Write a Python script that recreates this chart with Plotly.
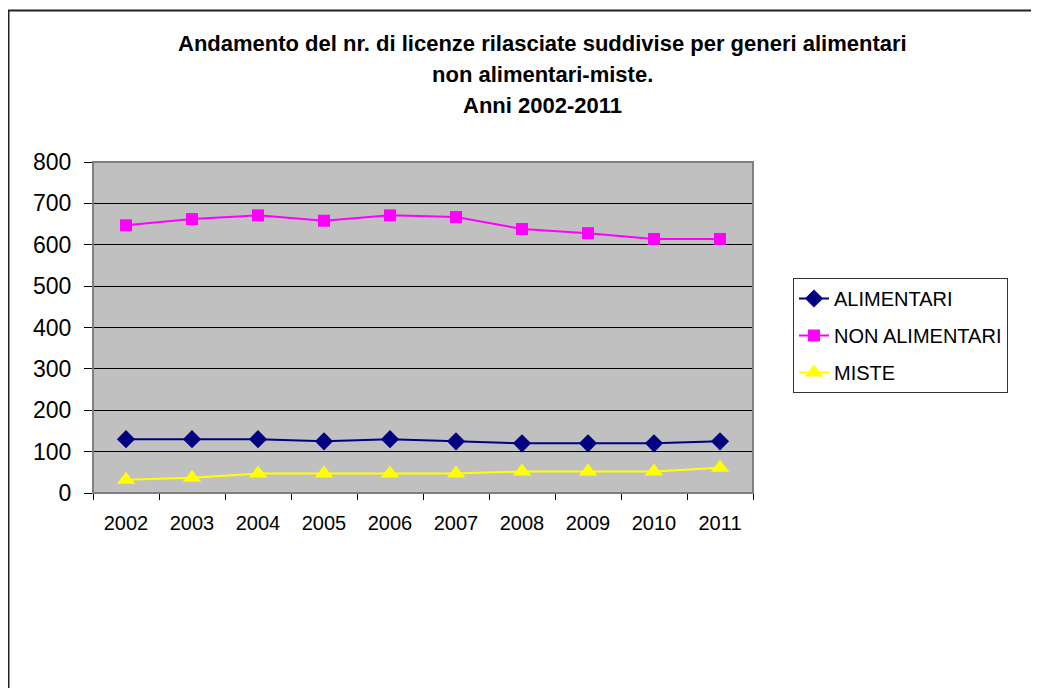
import plotly.graph_objects as go

years = ["2002", "2003", "2004", "2005", "2006", "2007", "2008", "2009", "2010", "2011"]
alimentari = [130, 130, 130, 125, 130, 125, 120, 120, 120, 125]
non_alimentari = [647, 662, 671, 658, 671, 667, 638, 628, 614, 614]
miste = [32, 37, 47, 47, 47, 47, 52, 52, 52, 61]
y_ticks = [0, 100, 200, 300, 400, 500, 600, 700, 800]
title_lines = [
    "Andamento del nr. di licenze rilasciate suddivise per generi alimentari",
    "non alimentari-miste.",
    "Anni 2002-2011",
]

OFF = 8  # page body margin
W, H = 1039 - OFF, 688 - OFF
L, R, T, B = 93 - OFF, 753 - OFF, 162 - OFF, 493 - OFF
pw, ph = R - L, B - T

def px_x(x):
    return (x - OFF - L) / pw

def px_y(y):
    return (B - (y - OFF)) / ph

font = "Liberation Sans, Arial, sans-serif"

fig = go.Figure()
fig.add_trace(go.Scatter(x=years, y=alimentari, name="ALIMENTARI", mode="lines+markers",
                         legendgroup="a",
                         line=dict(color="#000080", width=2),
                         marker=dict(symbol="diamond", size=14, color="#000080")))
fig.add_trace(go.Scatter(x=years, y=non_alimentari, name="NON ALIMENTARI", mode="lines+markers",
                         legendgroup="b",
                         line=dict(color="#FF00FF", width=2),
                         marker=dict(symbol="square", size=12, color="#FF00FF")))
fig.add_trace(go.Scatter(x=years, y=miste, name="MISTE", mode="lines+markers",
                         legendgroup="c",
                         line=dict(color="#FFFF00", width=2),
                         marker=dict(symbol="triangle-up", size=16, color="#FFFF00")))

annotations = []
for txt, py in zip(title_lines, [43, 74, 105]):
    annotations.append(dict(text="<b>" + txt + "</b>", x=px_x(542), y=px_y(py),
                            xref="paper", yref="paper", showarrow=False,
                            xanchor="center", yanchor="middle",
                            font=dict(family=font, size=22, color="black")))

fig.update_layout(
    width=W, height=H,
    margin=dict(l=L, r=W - R, t=T, b=H - B, pad=0),
    paper_bgcolor="white", plot_bgcolor="#C0C0C0",
    font=dict(family=font, size=20, color="black"),
    showlegend=True,
    legend=dict(x=px_x(793), y=px_y(278), xanchor="left", yanchor="top",
                bordercolor="#333333", borderwidth=1, bgcolor="white",
                font=dict(family=font, size=20, color="black"),
                tracegroupgap=8, itemwidth=30,
                entrywidth=200, entrywidthmode="pixels"),
    annotations=annotations,
    shapes=[
        dict(type="rect", xref="paper", yref="paper", x0=0, x1=1, y0=0, y1=1,
             line=dict(color="#808080", width=2), layer="above"),
        dict(type="rect", xref="paper", yref="paper",
             x0=px_x(8.5), x1=px_x(1050), y0=px_y(700), y1=px_y(10.5),
             line=dict(color="#222222", width=2), layer="above"),
    ],
)
fig.update_xaxes(type="category", tickson="boundaries", ticks="outside", ticklen=6,
                 tickcolor="black", showline=True, linecolor="black", linewidth=1,
                 showgrid=False, tickfont=dict(size=20), range=[-0.5, 9.5],
                 ticklabelstandoff=12)
fig.update_yaxes(range=[0, 800], tickvals=y_ticks, ticks="outside", ticklen=8,
                 tickcolor="black", showline=True, linecolor="black", linewidth=1,
                 showgrid=True, gridcolor="black", gridwidth=1, zeroline=False,
                 tickfont=dict(size=23), ticklabelstandoff=8)

fig.write_html("out.html")
